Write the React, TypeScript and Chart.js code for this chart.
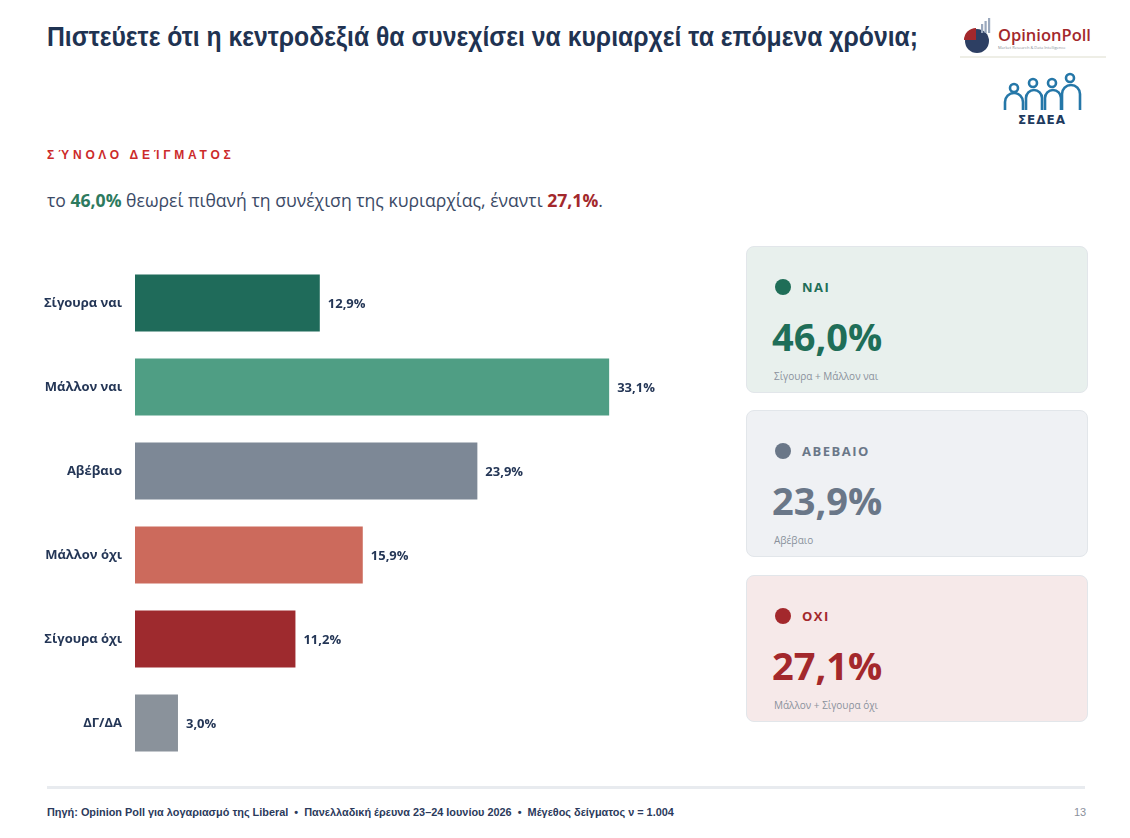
import React, { useEffect, useLayoutEffect, useRef } from "react";
import { Chart, registerables } from "chart.js";

Chart.register(...registerables);

const categories = ["Σίγουρα ναι", "Μάλλον ναι", "Αβέβαιο", "Μάλλον όχι", "Σίγουρα όχι", "ΔΓ/ΔΑ"];
const values = [12.9, 33.1, 23.9, 15.9, 11.2, 3.0];
const barColors = ["#1f6b5a", "#4f9e84", "#7d8896", "#cc6a5c", "#9e2a2e", "#8a929b"];

const summaryLabels = ["ΝΑΙ", "ΑΒΕΒΑΙΟ", "ΟΧΙ"];
const summaryValues = ["46,0%", "23,9%", "27,1%"];
const summaryNotes = ["Σίγουρα + Μάλλον ναι", "Αβέβαιο", "Μάλλον + Σίγουρα όχι"];
const summaryColors = ["#1f6e58", "#6a7788", "#a3282c"];
const summaryBgs = ["#e8f0ed", "#eff1f4", "#f6e9e9"];

const NAVY = "#243656";
const fmt = (v: number) => v.toFixed(1).replace(".", ",") + "%";

const valueLabels = {
  id: "valueLabels",
  afterDatasetsDraw(chart: any) {
    const { ctx } = chart;
    const meta = chart.getDatasetMeta(0);
    ctx.save();
    ctx.font = "bold 13px 'Open Sans', sans-serif";
    ctx.fillStyle = NAVY;
    ctx.textBaseline = "middle";
    ctx.textAlign = "left";
    meta.data.forEach((bar: any, i: number) => {
      ctx.fillText(fmt(values[i]), bar.x + 8, bar.y + 1);
    });
    ctx.restore();
  },
};

function BarChart() {
  const ref = useRef<HTMLCanvasElement>(null);
  useEffect(() => {
    if (!ref.current) return;
    const chart = new Chart(ref.current, {
      type: "bar",
      data: {
        labels: categories,
        datasets: [
          {
            data: values,
            backgroundColor: barColors,
            barPercentage: 0.68,
            categoryPercentage: 1,
          },
        ],
      },
      options: {
        indexAxis: "y",
        animation: false,
        responsive: false,
        maintainAspectRatio: false,
        layout: { padding: 0 },
        plugins: { legend: { display: false }, tooltip: { enabled: false } },
        scales: {
          x: { display: false, min: 0, max: 40 },
          y: {
            grid: { display: false, drawTicks: false },
            border: { display: false },
            afterFit(scale: any) {
              scale.width = 135;
              scale.paddingTop = 0;
              scale.paddingBottom = 0;
            },
            ticks: {
              padding: 13,
              color: NAVY,
              font: { family: "'Open Sans', sans-serif", size: 13, weight: "bold" },
            },
          },
        },
      },
      plugins: [valueLabels],
    });
    return () => chart.destroy();
  }, []);
  return <canvas ref={ref} width={708} height={504} style={{ position: "absolute", left: 0, top: 261, width: 708, height: 504 }} />;
}

function Logos() {
  return (
    <>
      <svg style={{ position: "absolute", left: 958, top: 16, width: 150, height: 44 }} viewBox="0 0 150 44">
        <circle cx="19" cy="25" r="12" fill="#2d3f63" />
        <path d="M19 25 L7 25 A12 12 0 0 1 19 13 Z" fill="#a3282c" transform="translate(-1,-1)" />
        <rect x="23" y="8" width="2.2" height="9" fill="#9aa8bd" />
        <rect x="26.5" y="5" width="2.2" height="12" fill="#9aa8bd" />
        <rect x="30" y="2" width="2.2" height="15" fill="#9aa8bd" />
        <text x="40" y="25" fontFamily="'Open Sans', sans-serif" fontSize="16.5" fontWeight="600" fill="#a3282c">OpinionPoll</text>
        <text x="40" y="33" fontFamily="'Open Sans', sans-serif" fontSize="4" fill="#8a8f99">Market Research &amp; Data Intelligence</text>
        <rect x="2" y="40" width="146" height="2" fill="#eeeee6" />
      </svg>
      <svg style={{ position: "absolute", left: 1000, top: 72, width: 90, height: 56 }} viewBox="0 0 90 56">
        <g fill="none" stroke="#2577a8" strokeWidth="2.6">
          <circle cx="14" cy="16" r="4" />
          <circle cx="33" cy="11" r="4" />
          <circle cx="52" cy="11" r="4" />
          <circle cx="70" cy="6" r="4" />
          <path d="M5 38 V30 A9 9 0 0 1 23 30 V38" />
          <path d="M26 38 V26 A8 8 0 0 1 42 26 V38" />
          <path d="M45 38 V26 A8 8 0 0 1 61 26 V38" />
          <path d="M62 38 V22 A9 9 0 0 1 80 22 V38" />
        </g>
        <text x="42" y="52" textAnchor="middle" fontFamily="'DejaVu Sans', sans-serif" fontSize="12" fontWeight="bold" fill="#1e3a5e" letterSpacing="1">ΣΕΔΕΑ</text>
      </svg>
    </>
  );
}

function Card({ i, top }: { i: number; top: number }) {
  return (
    <div
      style={{
        position: "absolute",
        left: 746,
        top,
        width: 342,
        height: 147,
        boxSizing: "border-box",
        background: summaryBgs[i],
        border: "1.5px solid #e2e6ea",
        borderRadius: 8,
        fontFamily: "'Open Sans', sans-serif",
      }}
    >
      <div style={{ position: "absolute", left: 28, top: 32, width: 16, height: 16, borderRadius: 8, background: summaryColors[i] }} />
      <div style={{ position: "absolute", left: 55, top: 30, fontSize: 13, fontWeight: 700, letterSpacing: 1.5, color: summaryColors[i], lineHeight: "20px" }}>
        {summaryLabels[i]}
      </div>
      <div style={{ position: "absolute", left: 25, top: 64, fontSize: 38, fontWeight: 700, color: summaryColors[i], lineHeight: "50px" }}>
        {summaryValues[i]}
      </div>
      <div style={{ position: "absolute", left: 27, top: 122, fontSize: 10, color: "#8a919c", lineHeight: "14px" }}>
        {summaryNotes[i]}
      </div>
    </div>
  );
}

function Title() {
  const ref = useRef<HTMLDivElement>(null);
  useLayoutEffect(() => {
    const el = ref.current;
    if (!el) return;
    el.style.transform = "none";
    const w = el.getBoundingClientRect().width;
    if (w > 0) el.style.transform = `scaleX(${871 / w})`;
  }, []);
  return (
    <div
      ref={ref}
      style={{
        position: "absolute",
        left: 47,
        top: 19,
        fontFamily: "'Liberation Sans', sans-serif",
        fontWeight: 700,
        fontSize: 27,
        color: "#1f3352",
        lineHeight: "36px",
        whiteSpace: "nowrap",
        transformOrigin: "left center",
      }}
    >
      Πιστεύετε ότι η κεντροδεξιά θα συνεχίσει να κυριαρχεί τα επόμενα χρόνια;
    </div>
  );
}

export default function App() {
  useLayoutEffect(() => {
    document.body.style.margin = "0";
  }, []);
  return (
    <div style={{ position: "relative", width: 1130, height: 838, background: "#fff", overflow: "hidden" }}>
      <Title />
      <Logos />
      <div
        style={{
          position: "absolute",
          left: 47,
          top: 147,
          fontFamily: "'Liberation Sans', sans-serif",
          fontWeight: 700,
          fontSize: 12,
          letterSpacing: 3.8,
          color: "#cc2b2b",
          lineHeight: "16px",
          whiteSpace: "nowrap",
        }}
      >
        ΣΎΝΟΛΟ ΔΕΊΓΜΑΤΟΣ
      </div>
      <div
        style={{
          position: "absolute",
          left: 47,
          top: 188,
          fontFamily: "'Open Sans', sans-serif",
          fontSize: 17.6,
          color: "#3b4a66",
          lineHeight: "24px",
          whiteSpace: "nowrap",
        }}
      >
        το <b style={{ color: "#2d7a5e" }}>46,0%</b> θεωρεί πιθανή τη συνέχιση της κυριαρχίας, έναντι{" "}
        <b style={{ color: "#a3282c" }}>27,1%</b>.
      </div>
      <BarChart />
      <Card i={0} top={246} />
      <Card i={1} top={410} />
      <Card i={2} top={575} />
      <div style={{ position: "absolute", left: 47, top: 786, width: 1038, height: 3, background: "#e8ebef" }} />
      <div
        style={{
          position: "absolute",
          left: 47,
          top: 804,
          fontFamily: "'Liberation Sans', sans-serif",
          fontWeight: 700,
          fontSize: 10.9,
          color: "#2b3a5c",
          lineHeight: "16px",
          whiteSpace: "nowrap",
        }}
      >
        Πηγή: Opinion Poll για λογαριασμό της Liberal &nbsp;•&nbsp; Πανελλαδική έρευνα 23–24 Ιουνίου 2026 &nbsp;•&nbsp; Μέγεθος δείγματος ν = 1.004
      </div>
      <div
        style={{
          position: "absolute",
          left: 1074,
          top: 804,
          fontFamily: "'Liberation Sans', sans-serif",
          fontSize: 11,
          color: "#8a919c",
          lineHeight: "16px",
        }}
      >
        13
      </div>
    </div>
  );
}
